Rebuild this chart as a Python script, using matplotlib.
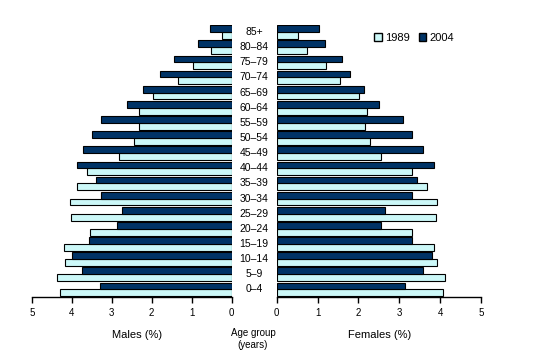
import numpy as np
import matplotlib
matplotlib.use("Agg")
import matplotlib.pyplot as plt
from matplotlib.patches import Patch

plt.rcParams.update({
    "font.family": "sans-serif",
    "font.sans-serif": ["Liberation Sans", "DejaVu Sans"],
    "font.size": 7,
})

C1989 = "#ccf8f8"
C2004 = "#003366"

ages = ["0\u20134", "5\u20139", "10\u201314", "15\u201319", "20\u201324", "25\u201329",
        "30\u201334", "35\u201339", "40\u201344", "45\u201349", "50\u201354", "55\u201359",
        "60\u201364", "65\u201369", "70\u201374", "75\u201379", "80\u201384", "85+"]

# percentages, youngest first
males_1989 = [4.30, 4.37, 4.17, 4.19, 3.54, 4.02, 4.04, 3.88, 3.62, 2.82,
              2.44, 2.32, 2.32, 1.96, 1.35, 0.96, 0.51, 0.25]
males_2004 = [3.29, 3.74, 3.99, 3.57, 2.87, 2.74, 3.27, 3.39, 3.87, 3.72,
              3.49, 3.27, 2.62, 2.22, 1.79, 1.44, 0.84, 0.53]
females_1989 = [4.08, 4.11, 3.93, 3.84, 3.30, 3.91, 3.93, 3.69, 3.30, 2.55,
                2.28, 2.16, 2.20, 2.01, 1.54, 1.20, 0.73, 0.53]
females_2004 = [3.15, 3.57, 3.79, 3.32, 2.56, 2.66, 3.30, 3.44, 3.84, 3.59,
                3.32, 3.10, 2.51, 2.14, 1.79, 1.60, 1.17, 1.03]

W, H = 540, 364
fig = plt.figure(figsize=(W / 100, H / 100), dpi=100)
bottom = 1 - 297 / H
height = 272.5 / H
ax_l = fig.add_axes([32 / W, bottom, 199.5 / W, height])
ax_r = fig.add_axes([276.7 / W, bottom, 204.3 / W, height])

y = np.arange(len(ages))
h = 0.45
for ax, v89, v04 in [(ax_l, males_1989, males_2004), (ax_r, females_1989, females_2004)]:
    ax.barh(y - h / 2, v89, h, color=C1989, edgecolor="black", linewidth=0.8)
    ax.barh(y + h / 2, v04, h, color=C2004, edgecolor="black", linewidth=0.8)
    ax.set_xlim(0, 5)
    ax.set_ylim(-0.5, len(ages) - 0.5)
    ax.set_xticks(range(6))
    ax.set_yticks([])
    for s in ["top", "left", "right"]:
        ax.spines[s].set_visible(False)
    ax.spines["bottom"].set_linewidth(1)
    ax.tick_params(axis="x", length=4, width=1, pad=4, labelsize=7)
ax_l.invert_xaxis()

trans = ax_l.get_yaxis_transform()
xmid = (254 - 32) / 199.5
for yi, lab in zip(y, ages):
    ax_l.text(xmid, yi, lab, transform=trans, ha="center", va="center",
              fontsize=7.5, clip_on=False)

fig.text(137 / W, 1 - 335 / H, "Males (%)", ha="center", va="center", fontsize=8)
fig.text(380 / W, 1 - 335 / H, "Females (%)", ha="center", va="center", fontsize=8)
fig.text(253 / W, 1 - 339 / H, "Age group\n(years)", ha="center", va="center",
         fontsize=7, linespacing=1.3)

handles = [Patch(facecolor=C1989, edgecolor="black", label="1989"),
           Patch(facecolor=C2004, edgecolor="black", label="2004")]
fig.legend(handles=handles, loc="center", bbox_to_anchor=(414 / W, 1 - 38 / H),
           ncol=2, frameon=False, fontsize=8, handlelength=0.7, handleheight=0.7,
           handletextpad=0.3, columnspacing=0.8)

fig.savefig("out.png", dpi=100)
